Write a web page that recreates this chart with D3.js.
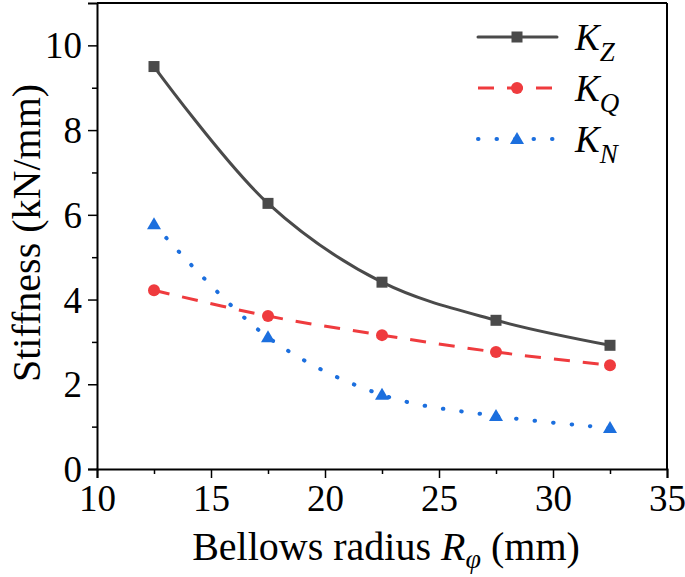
<!DOCTYPE html>
<html><head><meta charset="utf-8">
<script src="https://cdn.jsdelivr.net/npm/d3@7"></script>
<style>body{margin:0;background:#fff}svg{display:block}text{font-family:"Liberation Serif","Times New Roman",serif;fill:#000}</style>
</head><body><svg id="c" width="685" height="577"></svg>
<script>
const radius = [12.5, 17.5, 22.5, 27.5, 32.5];
const KZ = [9.50, 6.27, 4.41, 3.51, 2.92];
const KQ = [4.22, 3.61, 3.16, 2.76, 2.45];
const KN = [5.78, 3.11, 1.75, 1.25, 0.97];
const xTicks = [10, 15, 20, 25, 30, 35];
const xMinor = [12.5, 17.5, 22.5, 27.5, 32.5];
const yTicks = [0, 2, 4, 6, 8, 10];
const yMinor = [1, 3, 5, 7, 9];
const seriesNames = ["Z", "Q", "N"];

const svg = d3.select("#c");
const L = 97, R = 667, T = 3, B = 469;
const x = d3.scaleLinear().domain([10, 35]).range([L, R]);
const y = d3.scaleLinear().domain([0, 11]).range([B, T]);

const series = [
  {name: "Z", vals: KZ, color: "#4a4a4a", dash: null, cap: "round", w: 3, marker: "square"},
  {name: "Q", vals: KQ, color: "#ef3b3e", dash: "16,13", cap: "butt", w: 3, marker: "circle"},
  {name: "N", vals: KN, color: "#1c6fde", dash: "0.5,18", cap: "round", w: 4, marker: "triangle"}
];

// axes
const xAx = svg.append("g").attr("transform", `translate(0,${B})`)
  .call(d3.axisBottom(x).tickValues(xTicks).tickSize(9).tickPadding(6).tickFormat(d3.format("d")));
svg.append("g").attr("transform", `translate(0,${B})`)
  .call(d3.axisBottom(x).tickValues(xMinor).tickSize(5).tickFormat(""))
  .call(g => g.select(".domain").remove());
const yAx = svg.append("g").attr("transform", `translate(${L},0)`)
  .call(d3.axisLeft(y).tickValues(yTicks).tickSize(9).tickPadding(6).tickFormat(d3.format("d")));
svg.append("g").attr("transform", `translate(${L},0)`)
  .call(d3.axisLeft(y).tickValues(yMinor).tickSize(5).tickFormat(""))
  .call(g => g.select(".domain").remove());
svg.selectAll(".tick line").attr("stroke", "#000").attr("stroke-width", 1.5);
svg.selectAll(".domain").attr("stroke", "#000").attr("stroke-width", 2);
svg.selectAll(".tick text").style("font-size", "37px").style("font-family", "Liberation Serif");
xAx.selectAll(".tick text").attr("dy", "0.72em");
yAx.selectAll(".tick text").attr("dy", "0.34em");
// top & right spines
svg.append("line").attr("x1", L).attr("x2", R).attr("y1", T).attr("y2", T).attr("stroke", "#000").attr("stroke-width", 2);
svg.append("line").attr("x1", R).attr("x2", R).attr("y1", T).attr("y2", B).attr("stroke", "#000").attr("stroke-width", 2);

// lines
const line = d3.line().x((d, i) => x(radius[i])).y(d => y(d)).curve(d3.curveCatmullRom.alpha(0.5));
function marker(g, type, cx, cy, color) {
  if (type === "square") g.append("rect").attr("x", cx - 5.5).attr("y", cy - 5.5).attr("width", 11).attr("height", 11).attr("fill", color);
  else if (type === "circle") g.append("circle").attr("cx", cx).attr("cy", cy).attr("r", 6).attr("fill", color);
  else g.append("path").attr("d", `M${cx},${cy - 7}L${cx + 7},${cy + 5}L${cx - 7},${cy + 5}Z`).attr("fill", color);
}
series.forEach(s => {
  svg.append("path").attr("d", line(s.vals)).attr("fill", "none").attr("stroke", s.color)
    .attr("stroke-width", s.w).attr("stroke-dasharray", s.dash).attr("stroke-linecap", s.cap);
  const g = svg.append("g");
  s.vals.forEach((v, i) => marker(g, s.marker, x(radius[i]), y(v), s.color));
});

// legend
const legY = [37, 88, 139];
series.forEach((s, i) => {
  const ly = legY[i];
  svg.append("line").attr("x1", 478).attr("x2", 557).attr("y1", ly).attr("y2", ly)
    .attr("stroke", s.color).attr("stroke-width", s.w).attr("stroke-dasharray", s.dash).attr("stroke-linecap", s.cap);
  marker(svg, s.marker, 517, ly, s.color);
  const t = svg.append("text").attr("x", 575).attr("y", ly + 13).style("font-size", "37px").style("font-style", "italic");
  t.append("tspan").text("K");
  t.append("tspan").attr("dy", 11).style("font-size", "27px").text(seriesNames[i]);
});

// axis labels
const xl = svg.append("text").attr("x", 386).attr("y", 560).attr("text-anchor", "middle").style("font-size", "40px");
xl.append("tspan").text("Bellows radius ");
xl.append("tspan").style("font-style", "italic").text("R");
xl.append("tspan").attr("dy", 8).style("font-style", "italic").style("font-size", "28px").text("φ");
xl.append("tspan").attr("dy", -8).text(" (mm)");
svg.append("text").attr("transform", "translate(40,233) rotate(-90)").attr("text-anchor", "middle")
  .style("font-size", "40px").text("Stiffness (kN/mm)");
</script></body></html>
